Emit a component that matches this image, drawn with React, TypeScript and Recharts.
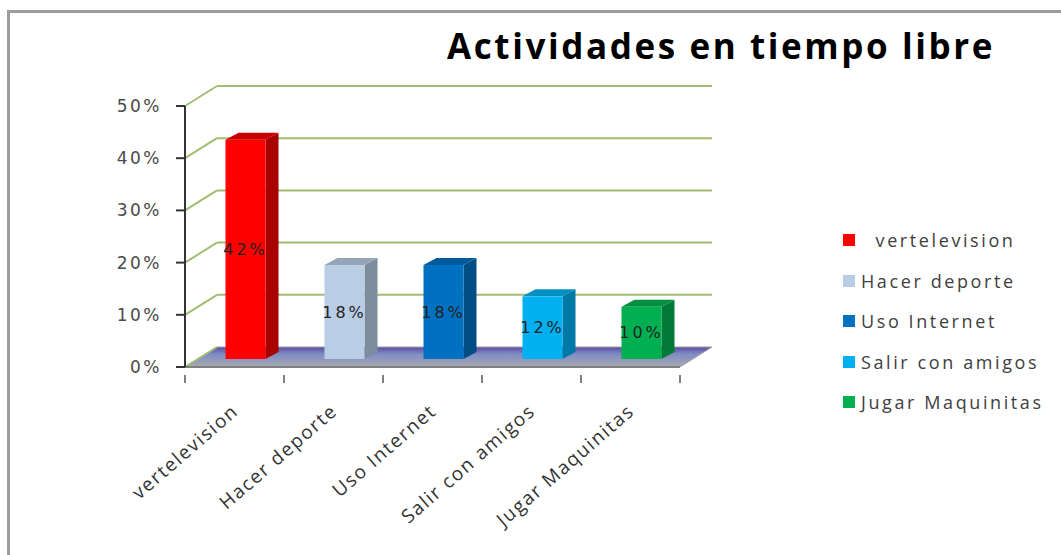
import { Bar, BarChart, CartesianGrid, Cell, LabelList, Legend, XAxis, YAxis } from "recharts";

const categories = ["vertelevision", "Hacer deporte", "Uso Internet", "Salir con amigos", "Jugar Maquinitas"];
const legendNames = ["  vertelevision", "Hacer deporte", "Uso Internet", "Salir con amigos", "Jugar Maquinitas"];
const values = [0.42, 0.18, 0.18, 0.12, 0.1];
const yTicks = [0, 0.1, 0.2, 0.3, 0.4, 0.5];

const data = categories.map((name, i) => ({ name, value: values[i] }));

const COLORS = ["#FF0000", "#B9CDE5", "#0070C0", "#00B0F0", "#00B050"];
const SHADES: Record<string, { side: string; top: string }> = {
  "#FF0000": { side: "#A80000", top: "#C80000" },
  "#B9CDE5": { side: "#7D8B9C", top: "#95A5B8" },
  "#0070C0": { side: "#004C84", top: "#005A9C" },
  "#00B0F0": { side: "#0079A6", top: "#0090C4" },
  "#00B050": { side: "#007A36", top: "#009040" },
};

// 3d offsets (px)
const BACK_DX = 32;
const BACK_DY = -20;
const BAR_DX = 10.5;
const BAR_DY = -8;
const SIDE_W = 13;
const SIDE_RISE = 7;
const PLOT_BOTTOM = 367;
const GRID = "#A0BE72";

const pct = (v: number) => `${Math.round(v * 100)}%`;

const GridLine = (p: any) => {
  const { x1, y1, x2 } = p;
  const floor = Math.abs(y1 - PLOT_BOTTOM) < 1;
  return (
    <g key={p.key}>
      {!floor && (
        <line x1={x1 + BACK_DX} y1={y1 + BACK_DY} x2={x2 + BACK_DX} y2={y1 + BACK_DY} stroke={GRID} strokeWidth={2} />
      )}
      {floor && (
        <g>
          <defs>
            <linearGradient id="floorGrad" x1="0" y1="0" x2="0" y2="1">
              <stop offset="0%" stopColor="#5B4A9E" />
              <stop offset="35%" stopColor="#7E8CC4" />
              <stop offset="100%" stopColor="#A9A9B1" />
            </linearGradient>
          </defs>
          <polygon
            points={`${x1},${y1} ${x2},${y1} ${x2 + BACK_DX},${y1 + BACK_DY} ${x1 + BACK_DX},${y1 + BACK_DY}`}
            fill="url(#floorGrad)"
            stroke="#A0A0A8"
            strokeWidth={1}
          />
        </g>
      )}
      <line x1={x1} y1={y1} x2={x1 + BACK_DX} y2={y1 + BACK_DY} stroke={GRID} strokeWidth={2} />
    </g>
  );
};

const Bar3D = (props: any) => {
  const { x, y, width, height, fill } = props;
  const s = SHADES[fill] || { side: fill, top: fill };
  const fx = x + BAR_DX;
  const fy = y + BAR_DY;
  return (
    <g>
      <polygon
        points={`${fx + width},${fy} ${fx + width + SIDE_W},${fy - SIDE_RISE} ${fx + width + SIDE_W},${fy + height - SIDE_RISE} ${fx + width},${fy + height}`}
        fill={s.side}
      />
      <polygon
        points={`${fx},${fy} ${fx + SIDE_W},${fy - SIDE_RISE} ${fx + width + SIDE_W},${fy - SIDE_RISE} ${fx + width},${fy}`}
        fill={s.top}
      />
      <rect x={fx} y={fy} width={width} height={height} fill={fill} />
    </g>
  );
};

const BarLabel = (props: any) => {
  const { x, y, width, height, value } = props;
  return (
    <text
      x={x + BAR_DX + width / 2}
      y={y + BAR_DY + height / 2}
      textAnchor="middle"
      dominantBaseline="central"
      fontFamily="DejaVu Sans"
      fontSize={16}
      letterSpacing={3}
      fill="#222"
    >
      {pct(value)}
    </text>
  );
};

const XTick = (props: any) => {
  const { x, y, payload, index } = props;
  const half = 49.5;
  const lx = x + 5;
  const ly = y + 38;
  return (
    <g>
      <line x1={x - half} y1={y} x2={x - half} y2={y + 8} stroke="#808080" strokeWidth={2} />
      {index === categories.length - 1 && (
        <line x1={x + half} y1={y} x2={x + half} y2={y + 8} stroke="#808080" strokeWidth={2} />
      )}
      <text
        x={lx}
        y={ly}
        textAnchor="end"
        transform={`rotate(-41, ${lx}, ${ly})`}
        fontFamily="Open Sans"
        fontSize={19}
        letterSpacing={1.6}
        fill="#333"
      >
        {payload.value}
      </text>
    </g>
  );
};

const LegendContent = () => (
  <div style={{ fontFamily: "Open Sans", fontSize: 18, letterSpacing: 2.6, color: "#404040" }}>
    {legendNames.map((n, i) => (
      <div key={n} style={{ height: 40.5, display: "flex", alignItems: "center", whiteSpace: "pre" }}>
        <span style={{ width: 12, height: 12, background: COLORS[i], marginRight: 6, display: "inline-block" }} />
        {n}
      </div>
    ))}
  </div>
);

export default function App() {
  return (
    <div style={{ position: "fixed", left: 0, top: 0, width: 1061, height: 555, background: "#fff", overflow: "hidden" }}>
      <div
        style={{
          position: "absolute",
          left: 7,
          top: 10,
          width: 1100,
          height: 600,
          borderTop: "3px solid #9C9C9C",
          borderLeft: "3px solid #9C9C9C",
        }}
      />
      <div style={{ position: "absolute", left: 0, top: 0 }}>
        <BarChart
          width={1061}
          height={555}
          data={data}
          margin={{ top: 106, right: 381, bottom: 88, left: 85 }}
          barSize={40}
        >
          <CartesianGrid horizontal={GridLine} vertical={false} />
          <XAxis
            dataKey="name"
            height={100}
            interval={0}
            tickLine={false}
            axisLine={{ stroke: "#808080", strokeWidth: 2 }}
            tick={XTick}
          />
          <YAxis
            width={100}
            domain={[0, 0.5]}
            ticks={yTicks}
            tickFormatter={pct}
            tickSize={9}
            tickMargin={14}
            axisLine={{ stroke: "#333", strokeWidth: 2 }}
            tickLine={{ stroke: "#333", strokeWidth: 2 }}
            tick={{ fontFamily: "DejaVu Sans", fontSize: 17, letterSpacing: 2.5, fill: "#4A4A4A" }}
          />
          <Bar dataKey="value" shape={Bar3D} isAnimationActive={false}>
            {data.map((d, i) => (
              <Cell key={d.name} fill={COLORS[i]} />
            ))}
            <LabelList dataKey="value" content={BarLabel} />
          </Bar>
          <Legend
            layout="vertical"
            align="center"
            verticalAlign="middle"
            content={LegendContent}
            wrapperStyle={{ left: 843, top: 220, width: 218, height: 205 }}
          />
          <text x={447} y={59} fontFamily="Open Sans" fontWeight="bold" fontSize={35} letterSpacing={2.6} fill="#000">
            Actividades en tiempo libre
          </text>
        </BarChart>
      </div>
    </div>
  );
}
